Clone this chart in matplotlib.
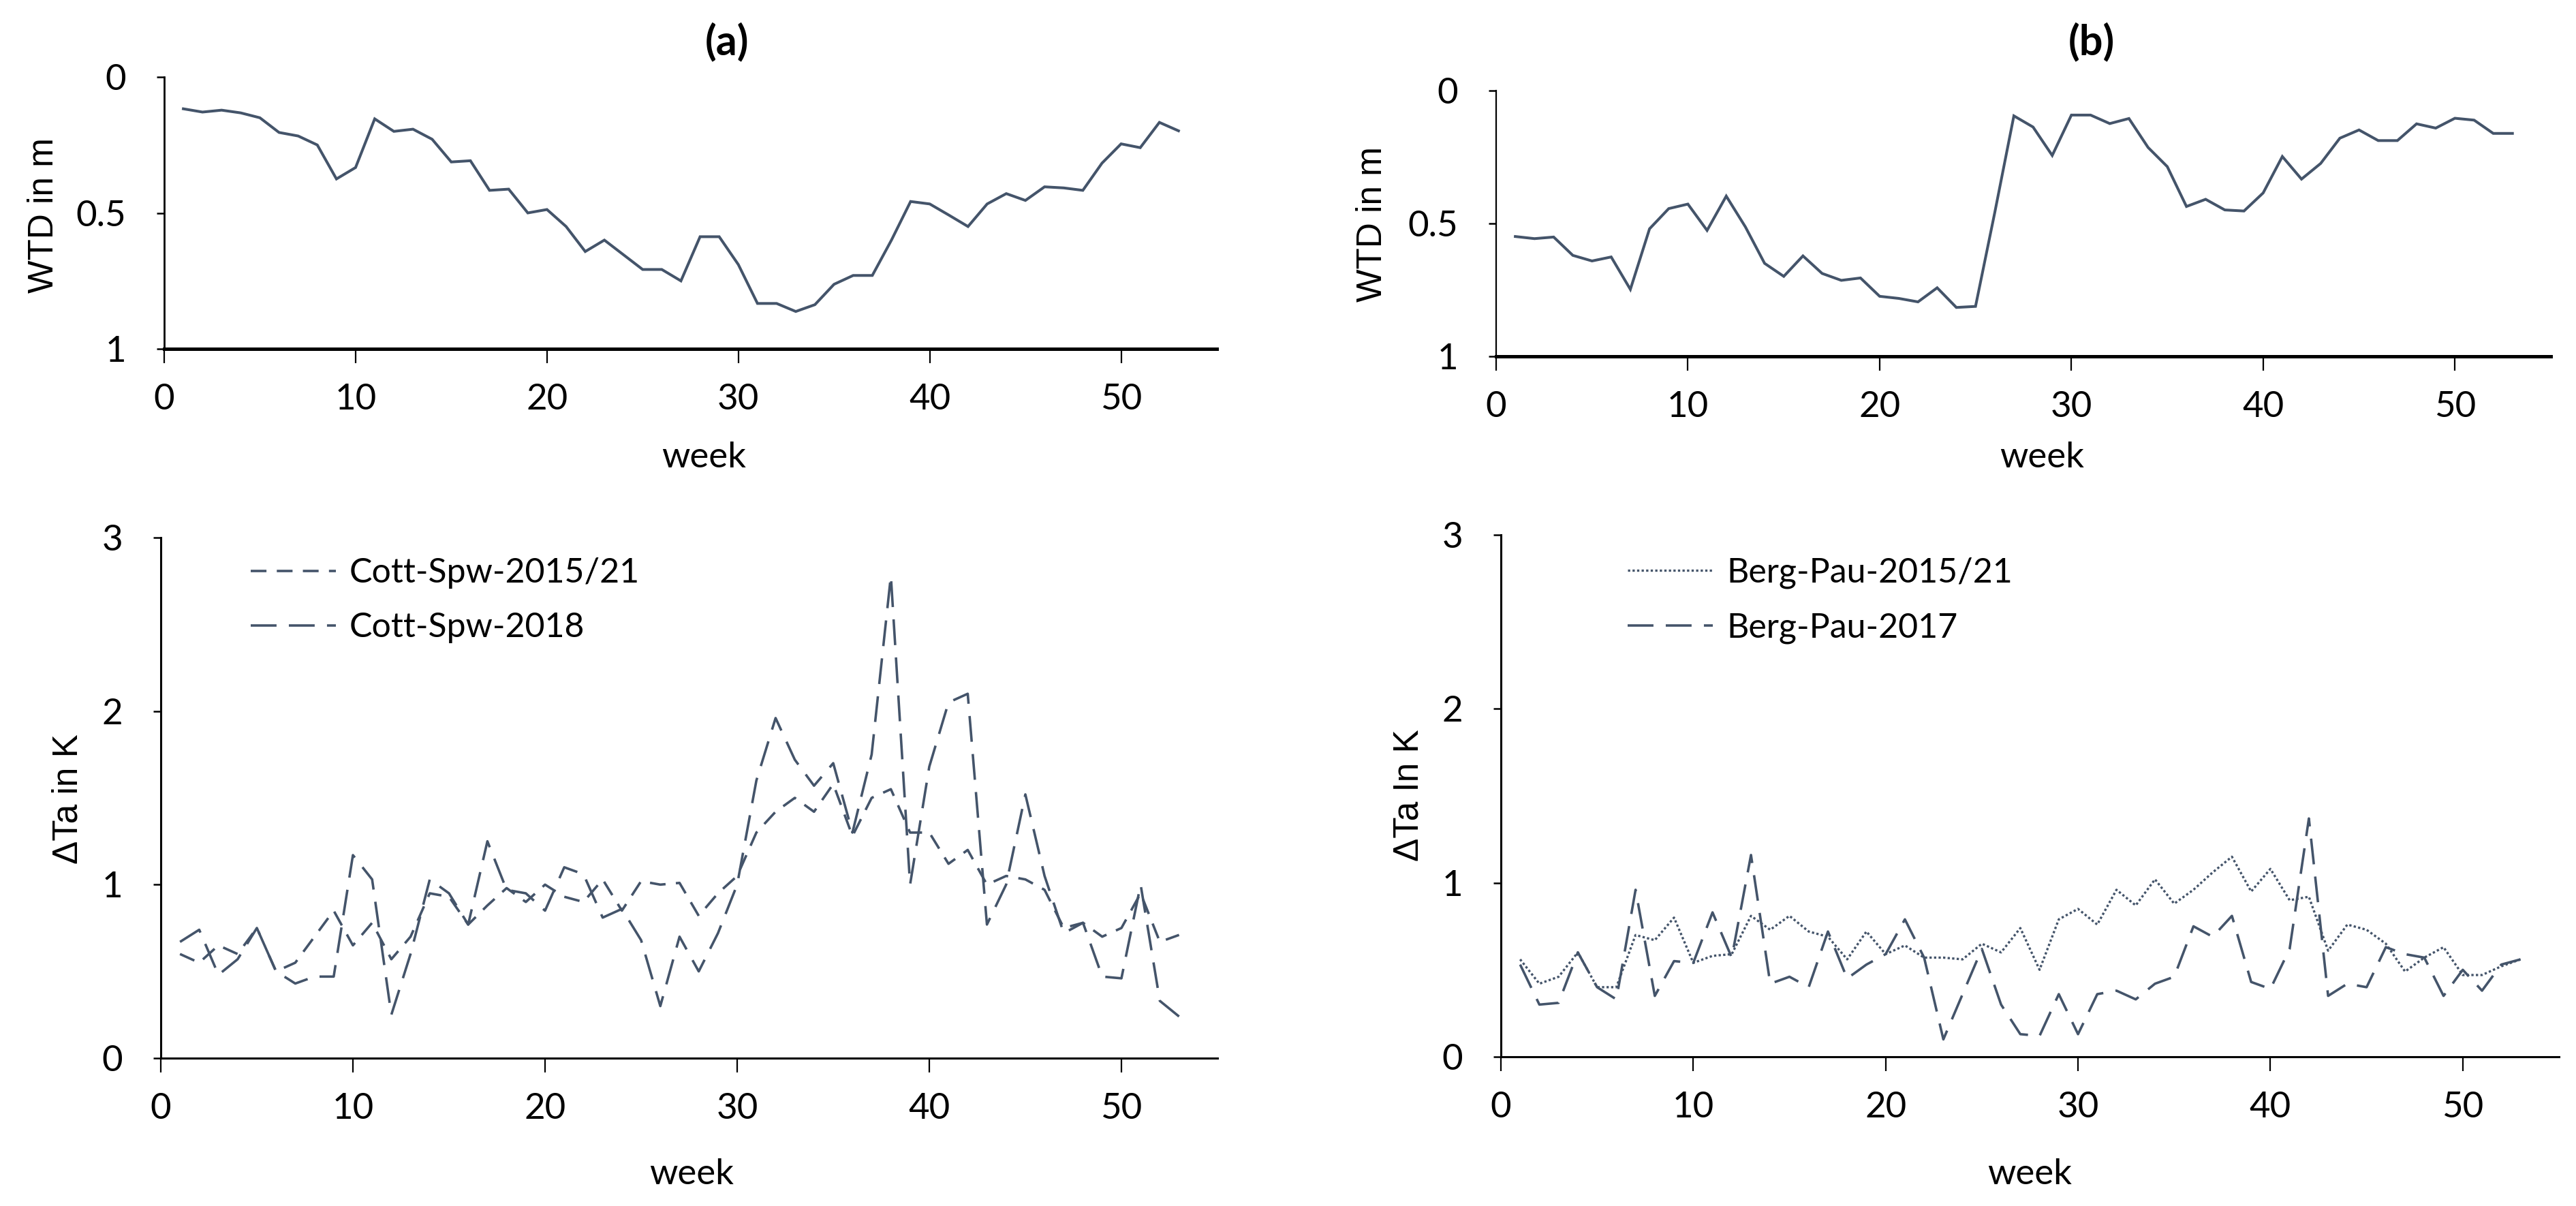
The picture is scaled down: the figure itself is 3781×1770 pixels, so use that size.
import matplotlib
matplotlib.use("Agg")
import matplotlib.pyplot as plt

W, H = 3781, 1770

weeks = list(range(1, 54))

wtd_a = [0.117, 0.129, 0.122, 0.132, 0.15, 0.204, 0.217, 0.25, 0.375, 0.333,
         0.154, 0.2, 0.192, 0.229, 0.3125, 0.308, 0.417, 0.4125, 0.5, 0.4875,
         0.55, 0.642, 0.6, 0.654, 0.708, 0.708, 0.75, 0.5875, 0.5875, 0.69,
         0.833, 0.833, 0.8625, 0.8375, 0.7625, 0.73, 0.73, 0.6, 0.458, 0.467,
         0.508, 0.55, 0.467, 0.429, 0.454, 0.404, 0.408, 0.417, 0.317, 0.246,
         0.26, 0.167, 0.198]

wtd_b = [0.549, 0.557, 0.551, 0.62, 0.641, 0.626, 0.748, 0.52, 0.444, 0.427,
         0.526, 0.397, 0.513, 0.65, 0.699, 0.622, 0.688, 0.714, 0.705, 0.774,
         0.782, 0.795, 0.742, 0.816, 0.812, 0.46, 0.095, 0.137, 0.244, 0.092,
         0.092, 0.124, 0.105, 0.214, 0.286, 0.436, 0.409, 0.449, 0.453, 0.385,
         0.248, 0.333, 0.274, 0.179, 0.148, 0.188, 0.188, 0.125, 0.141, 0.104,
         0.111, 0.161, 0.161]

cott_2015_21 = [0.6, 0.55, 0.65, 0.6, 0.75, 0.5, 0.55, 0.7, 0.85, 0.65,
                0.78, 0.57, 0.7, 0.95, 0.93, 0.77, 0.88, 0.98, 0.9, 1.0,
                0.93, 0.9, 1.03, 0.85, 1.02, 1.0, 1.01, 0.82, 0.95, 1.05,
                1.3, 1.42, 1.5, 1.42, 1.58, 1.28, 1.5, 1.55, 1.3, 1.3,
                1.12, 1.2, 1.0, 1.05, 1.03, 0.97, 0.75, 0.78, 0.7, 0.75,
                0.95, 0.67, 0.71]

cott_2018 = [0.67, 0.74, 0.48, 0.57, 0.75, 0.5, 0.43, 0.47, 0.47, 1.17,
             1.03, 0.25, 0.6, 1.03, 0.95, 0.77, 1.25, 0.97, 0.95, 0.85,
             1.1, 1.06, 0.81, 0.86, 0.68, 0.3, 0.7, 0.5, 0.72, 1.0,
             1.6, 1.96, 1.72, 1.57, 1.7, 1.3, 1.75, 2.78, 1.0, 1.68,
             2.05, 2.1, 0.77, 1.0, 1.52, 1.05, 0.72, 0.78, 0.47, 0.46,
             1.0, 0.33, 0.24]

berg_2015_21 = [0.56, 0.42, 0.46, 0.6, 0.4, 0.4, 0.7, 0.67, 0.8, 0.54,
                0.58, 0.59, 0.81, 0.73, 0.81, 0.72, 0.69, 0.56, 0.72, 0.59,
                0.64, 0.57, 0.57, 0.56, 0.65, 0.6, 0.74, 0.5, 0.79, 0.85,
                0.76, 0.96, 0.87, 1.02, 0.88, 0.96, 1.06, 1.15, 0.95, 1.08,
                0.9, 0.92, 0.61, 0.76, 0.73, 0.65, 0.49, 0.57, 0.63, 0.47,
                0.47, 0.52, 0.56]

berg_2017 = [0.53, 0.3, 0.31, 0.6, 0.4, 0.33, 0.96, 0.35, 0.55, 0.54,
             0.83, 0.57, 1.16, 0.42, 0.46, 0.4, 0.72, 0.45, 0.53, 0.59,
             0.79, 0.57, 0.1, 0.36, 0.62, 0.3, 0.13, 0.12, 0.36, 0.13,
             0.36, 0.38, 0.33, 0.42, 0.46, 0.75, 0.69, 0.81, 0.43, 0.39,
             0.62, 1.37, 0.35, 0.42, 0.4, 0.63, 0.59, 0.57, 0.35, 0.5,
             0.38, 0.53, 0.56]

x_ticks = [0, 10, 20, 30, 40, 50]
wtd_ticks = [0, 0.5, 1]
wtd_ticklabels = ["0", "0.5", "1"]
dta_ticks = [0, 1, 2, 3]

COLOR = "#44546A"
SANS = ["Lato", "DejaVu Sans"]
ARIAL = ["Liberation Sans", "DejaVu Sans"]
plt.rcParams["font.family"] = SANS

fig = plt.figure(figsize=(W / 100, H / 100), dpi=100)


def ax_px(l, r, t, b):
    return fig.add_axes([l / W, 1 - b / H, (r - l) / W, (b - t) / H])


def style(ax, bottom_lw, left_lw):
    for s in ("top", "right"):
        ax.spines[s].set_visible(False)
    ax.spines["bottom"].set_linewidth(bottom_lw)
    ax.spines["left"].set_linewidth(left_lw)
    ax.set_xlim(0, 55)
    ax.set_xticks(x_ticks)
    ax.tick_params(axis="x", direction="out", length=15, width=1.6,
                   pad=22, labelsize=38)
    ax.tick_params(axis="y", direction="out", length=8, width=1.8,
                   pad=32, labelsize=38)


def ftext(x, y, s, **kw):
    fig.text(x / W, 1 - y / H, s, ha="center", va="center", **kw)


# ---- top panels (WTD)
ax1 = ax_px(241, 1786, 113, 512)
ax1.plot(weeks, wtd_a, color=COLOR, lw=2.9, solid_joinstyle="miter")
ax1.set_ylim(1, 0)
ax1.set_yticks(wtd_ticks)
ax1.set_yticklabels(wtd_ticklabels)
style(ax1, 3.6, 2.0)

ax2 = ax_px(2196, 3744, 133, 523)
ax2.plot(weeks, wtd_b, color=COLOR, lw=2.9, solid_joinstyle="miter")
ax2.set_ylim(1, 0)
ax2.set_yticks(wtd_ticks)
ax2.set_yticklabels(wtd_ticklabels)
style(ax2, 3.6, 1.6)

# ---- bottom panels (dTa)
ax3 = ax_px(236, 1787, 789, 1553)
ax3.plot(weeks, cott_2015_21, color=COLOR, lw=2.6,
         linestyle=(0, (6.4, 4.2)), label="Cott-Spw-2015/21")
ax3.plot(weeks, cott_2018, color=COLOR, lw=2.6,
         linestyle=(0, (10.5, 5.0)), label="Cott-Spw-2018")
ax3.set_ylim(0, 3)
ax3.set_yticks(dta_ticks)
style(ax3, 2.2, 2.2)

ax4 = ax_px(2203, 3756, 785, 1551)
ax4.plot(weeks, berg_2015_21, color=COLOR, lw=2.4,
         linestyle=(0, (1.0, 1.0)), label="Berg-Pau-2015/21")
ax4.plot(weeks, berg_2017, color=COLOR, lw=2.6,
         linestyle=(0, (10.5, 5.0)), label="Berg-Pau-2017")
ax4.set_ylim(0, 3)
ax4.set_yticks(dta_ticks)
style(ax4, 2.2, 2.2)

for ax, anchor in ((ax3, (0.085, 0.962)), (ax4, (0.12, 0.957))):
    ax.legend(loc="upper left", bbox_to_anchor=anchor, frameon=False,
              fontsize=36, handlelength=2.5, handletextpad=0.4,
              labelspacing=0.68, borderaxespad=0, borderpad=0)

# ---- texts
ftext(1067, 61, "(a)", fontsize=44, fontweight="bold")
ftext(3070, 61, "(b)", fontsize=44, fontweight="bold")
ftext(1033, 671, "week", fontsize=38)
ftext(2997, 671, "week", fontsize=38)
ftext(1015, 1723, "week", fontsize=38)
ftext(2979, 1723, "week", fontsize=38)
ftext(64, 316, "WTD in m", fontsize=37, rotation=90, family=ARIAL)
ftext(2014, 329, "WTD in m", fontsize=37, rotation=90, family=ARIAL)
ftext(100, 1173, "ΔTa in K", fontsize=37, rotation=90, family=ARIAL)
ftext(2068, 1167, "ΔTa In K", fontsize=37, rotation=90, family=ARIAL)

fig.savefig("out.png", dpi=100)
